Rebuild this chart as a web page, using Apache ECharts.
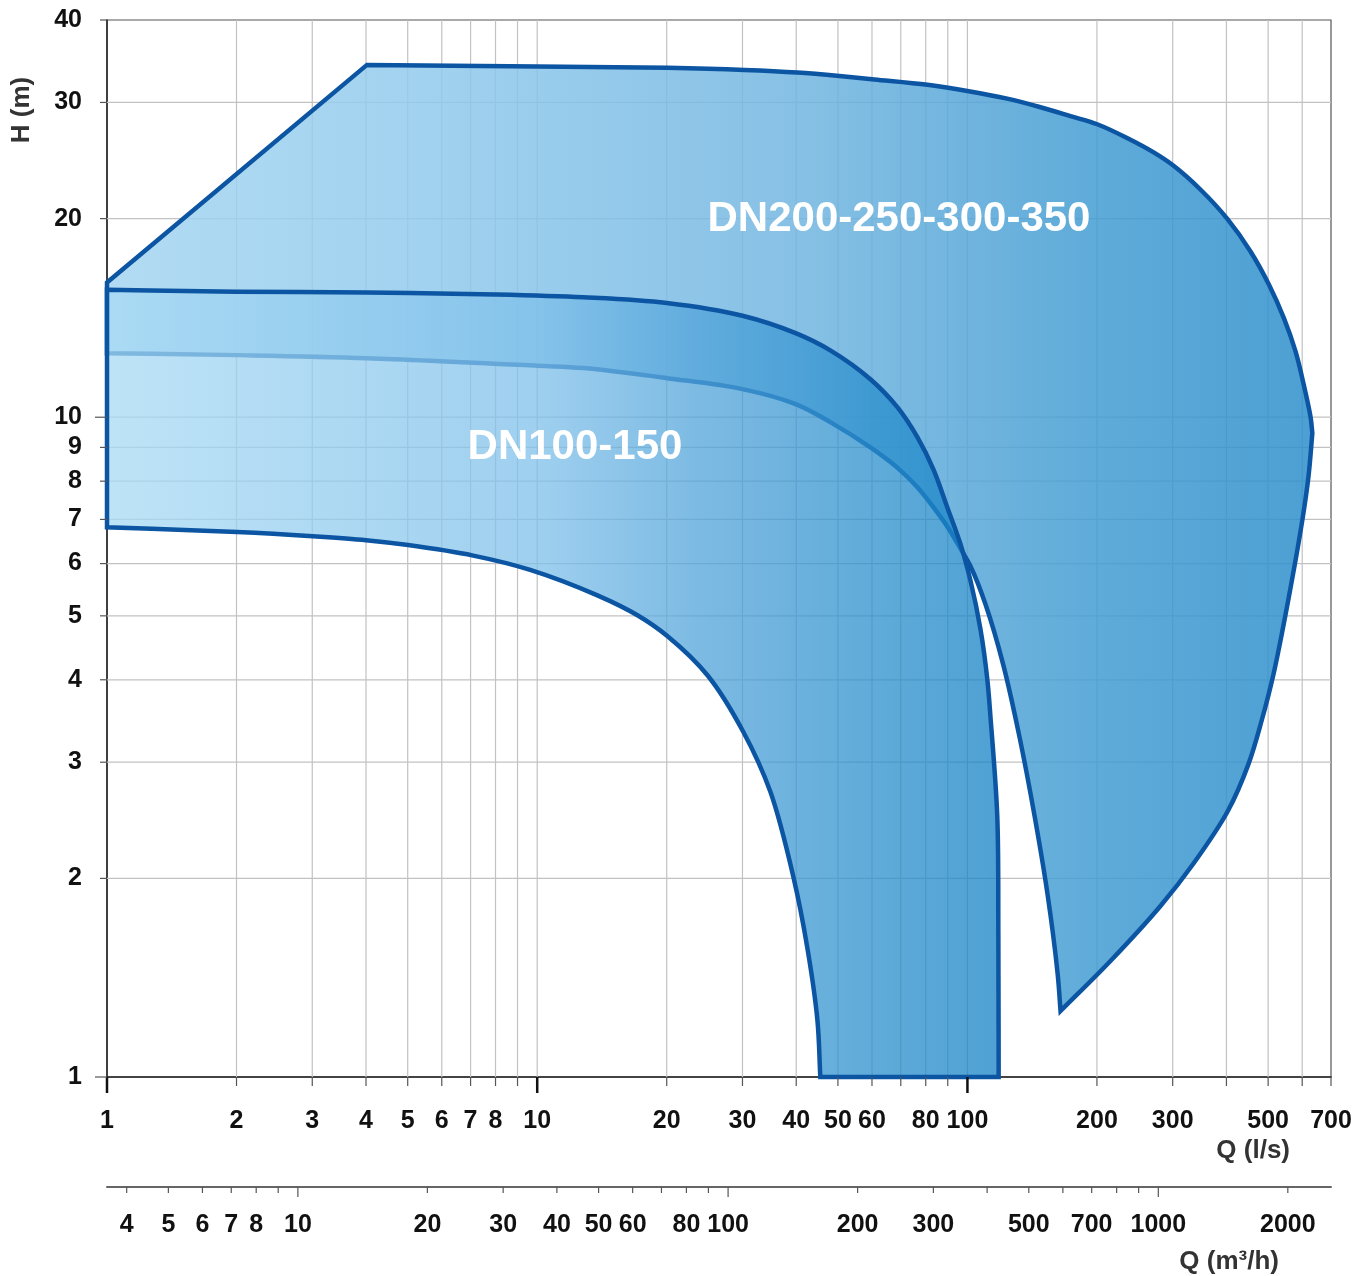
<!DOCTYPE html>
<html>
<head>
<meta charset="utf-8">
<script src="https://cdn.jsdelivr.net/npm/echarts@6/dist/echarts.min.js"></script>
<style>
  html, body { margin: 0; padding: 0; background: #fff; }
  #main { width: 1365px; height: 1276px; }
</style>
</head>
<body>
<div id="main"></div>
<script>
// pump range chart, Q in l/s, H in m (both log scales)
const dn200Q = [1, 4.02, 10, 20.06, 30.3, 40.2, 50.4, 60.8, 80.7, 100.7, 123.7, 147.9, 173.6, 200.3, 235, 271, 302, 348, 402, 455, 502, 544, 579, 605, 628, 633.5,
  621, 601, 558, 515, 483, 450, 403, 336, 281, 215, 164.6,
  162, 153.5, 143.2, 132.1, 121.2, 110.1, 101.6, 96.8, 90.3, 83.4, 76.5, 68.8, 59.5, 48, 40, 30, 20.06, 12.8, 10, 4.02, 2.016, 1];
const dn200H = [16.0, 34.2, 34.02, 33.85, 33.6, 33.3, 32.9, 32.5, 31.9, 31.2, 30.4, 29.5, 28.6, 27.8, 26.5, 25.2, 24.03, 22.14, 19.98, 17.83, 15.89, 14.13, 12.58, 11.2, 9.97, 9.46,
  8.17, 7.01, 5.32, 4.09, 3.47, 2.98, 2.53, 2.11, 1.816, 1.499, 1.259,
  1.437, 1.894, 2.49, 3.28, 4.21, 5.21, 5.95, 6.29, 6.79, 7.30, 7.83, 8.38, 9.0, 9.83, 10.46, 11.03, 11.46, 11.87, 11.97, 12.29, 12.42, 12.5];

const dn100Q = [1, 2, 4, 8, 12.8, 20, 30, 40, 48, 59.5, 68.8, 76.5, 83.4, 89.8, 96.3, 101.6, 107.3, 111.3, 113.1, 117.3, 118, 118.2,
  45.5, 44.8, 42.5, 39.4, 34.8, 30.1, 24.9, 20.06, 17.1, 13.8, 9.63, 7.1, 5.01, 4, 3.01, 2.006, 1];
const dn100H = [15.6, 15.5, 15.45, 15.35, 15.2, 14.9, 14.25, 13.4, 12.63, 11.42, 10.35, 9.33, 8.33, 7.30, 6.43, 5.66, 4.76, 3.99, 3.52, 2.49, 1.65, 1.0,
  1.0, 1.22, 1.563, 2.01, 2.71, 3.34, 4.06, 4.66, 5.01, 5.37, 5.87, 6.17, 6.40, 6.51, 6.60, 6.70, 6.81];

// indices where the outlines have a sharp corner (curved between them)
const dn200Corners = [0, 1, 25, 36, 58];
const dn100Corners = [0, 21, 22, 38];

const qGridLines = [2, 3, 4, 5, 6, 7, 8, 9, 10, 20, 30, 40, 50, 60, 70, 80, 90, 100, 200, 300, 400, 500, 600];
const qTicks = [1, 2, 3, 4, 5, 6, 7, 8, 9, 10, 20, 30, 40, 50, 60, 70, 80, 90, 100, 200, 300, 400, 500, 600, 700];
const qMajorTicks = [1, 10, 100];
const qLabels = [1, 2, 3, 4, 5, 6, 7, 8, 10, 20, 30, 40, 50, 60, 80, 100, 200, 300, 500, 700];

const hGridLines = [2, 3, 4, 5, 6, 7, 8, 9, 10, 20, 30];
const hTicks = [1, 2, 3, 4, 5, 6, 7, 8, 9, 10, 20, 30, 40];
const hMajorTicks = [1, 10];
const hLabels = [1, 2, 3, 4, 5, 6, 7, 8, 9, 10, 20, 30, 40];

const m3hTicks = [4, 5, 6, 7, 8, 9, 10, 20, 30, 40, 50, 60, 70, 80, 90, 100, 200, 300, 400, 500, 600, 700, 800, 900, 1000, 2000];
const m3hMajorTicks = [10, 100, 1000];
const m3hLabels = [4, 5, 6, 7, 8, 10, 20, 30, 40, 50, 60, 80, 100, 200, 300, 500, 700, 1000, 2000];

const Q_MIN = 1, Q_MAX = 700, H_MIN = 1, H_MAX = 40;
const FONT = '"Liberation Sans", Arial, sans-serif';
const LABEL_FONT = 'bold 25px ' + FONT;
const TITLE_FONT = 'bold 26px ' + FONT;
const OUTLINE = '#0b55a3';

const dn200Stops = [
  { offset: 0, color: 'rgba(165,213,241,0.85)' },
  { offset: 0.28, color: 'rgba(143,201,236,0.85)' },
  { offset: 0.57, color: 'rgba(113,181,224,0.85)' },
  { offset: 0.81, color: 'rgba(66,156,210,0.85)' },
  { offset: 1, color: 'rgba(44,142,203,0.85)' },
];
const dn100Stops = [
  { offset: 0, color: 'rgba(168,218,244,0.75)' },
  { offset: 0.35, color: 'rgba(127,192,234,0.75)' },
  { offset: 0.48, color: 'rgba(82,164,218,0.75)' },
  { offset: 0.63, color: 'rgba(41,142,204,0.75)' },
  { offset: 0.73, color: 'rgba(20,130,197,0.75)' },
  { offset: 1, color: 'rgba(14,127,195,0.75)' },
];

function line(x1, y1, x2, y2, color, width) {
  return { type: 'line', shape: { x1, y1, x2, y2 }, style: { stroke: color, lineWidth: width } };
}
function label(text, x, y, align, vAlign, font, color) {
  return { type: 'text', style: { text: String(text), x, y, align, verticalAlign: vAlign, font, fill: color } };
}

// centripetal Catmull-Rom control points for the segment p1 -> p2
function controls(p0, p1, p2, p3) {
  const dist = (a, b) => Math.sqrt(Math.hypot(b[0] - a[0], b[1] - a[1]));
  const d1 = dist(p0, p1), d2 = dist(p1, p2), d3 = dist(p2, p3);
  let c1, c2;
  if (d1 < 1e-6) {
    c1 = [p1[0] + (p2[0] - p1[0]) / 3, p1[1] + (p2[1] - p1[1]) / 3];
  } else {
    const a = 2 * d1 * d1 + 3 * d1 * d2 + d2 * d2, n = 3 * d1 * (d1 + d2);
    c1 = [0, 1].map(k => (d1 * d1 * p2[k] - d2 * d2 * p0[k] + a * p1[k]) / n);
  }
  if (d3 < 1e-6) {
    c2 = [p2[0] - (p2[0] - p1[0]) / 3, p2[1] - (p2[1] - p1[1]) / 3];
  } else {
    const a = 2 * d3 * d3 + 3 * d3 * d2 + d2 * d2, n = 3 * d3 * (d3 + d2);
    c2 = [0, 1].map(k => (d3 * d3 * p1[k] - d2 * d2 * p3[k] + a * p2[k]) / n);
  }
  return [c1, c2];
}

// closed outline: curves between corner points, straight where a piece has only two points
function outlinePath(pts, corners) {
  const n = pts.length;
  let d = 'M' + pts[0][0] + ' ' + pts[0][1];
  for (let k = 0; k < corners.length; k++) {
    const a = corners[k];
    const b = k + 1 < corners.length ? corners[k + 1] : n;
    const piece = [];
    for (let i = a; i <= b; i++) piece.push(pts[i % n]);
    if (piece.length === 2) {
      d += ' L' + piece[1][0] + ' ' + piece[1][1];
      continue;
    }
    for (let i = 0; i < piece.length - 1; i++) {
      const p0 = piece[Math.max(i - 1, 0)], p1 = piece[i], p2 = piece[i + 1];
      const p3 = piece[Math.min(i + 2, piece.length - 1)];
      const [c1, c2] = controls(p0, p1, p2, p3);
      d += ' C' + c1[0] + ' ' + c1[1] + ' ' + c2[0] + ' ' + c2[1] + ' ' + p2[0] + ' ' + p2[1];
    }
  }
  return d + ' Z';
}

function shapeItem(qs, hs, corners, stops) {
  return function (params, api) {
    const pts = qs.map((q, i) => api.coord([q, hs[i]]));
    const xa = api.coord([Q_MIN, H_MIN])[0];
    const xb = api.coord([Q_MAX, H_MIN])[0];
    return {
      type: 'path',
      shape: { pathData: outlinePath(pts, corners) },
      style: {
        fill: new echarts.graphic.LinearGradient(xa, 0, xb, 0, stops, true),
        stroke: OUTLINE,
        lineWidth: 4.5,
        lineJoin: 'miter',
        miterLimit: 10
      }
    };
  };
}

function gridItem(params, api) {
  const els = [];
  const [x0, y0] = api.coord([Q_MIN, H_MIN]);
  const [x1, y1] = api.coord([Q_MAX, H_MAX]);
  qGridLines.forEach(q => {
    const x = api.coord([q, H_MIN])[0];
    els.push(line(x, y1, x, y0, '#c2c2c2', 1.2));
  });
  hGridLines.forEach(h => {
    const y = api.coord([Q_MIN, h])[1];
    els.push(line(x0, y, x1, y, '#c2c2c2', 1.2));
  });
  return { type: 'group', children: els };
}

function primaryAxisItem(params, api) {
  const els = [];
  const [x0, y0] = api.coord([Q_MIN, H_MIN]);
  qTicks.forEach(q => {
    const x = api.coord([q, H_MIN])[0];
    const major = qMajorTicks.includes(q);
    els.push(line(x, y0, x, y0 + (major ? 16 : 9), major ? '#111' : '#555', major ? 2.5 : 1.2));
  });
  qLabels.forEach(q => {
    const x = api.coord([q, H_MIN])[0];
    els.push(label(q, x, y0 + 44, 'center', 'middle', LABEL_FONT, '#111'));
  });
  hTicks.forEach(h => {
    const y = api.coord([Q_MIN, h])[1];
    const major = hMajorTicks.includes(h);
    els.push(line(x0 - (major ? 12 : 7), y, x0, y, '#555', 1.2));
  });
  hLabels.forEach(h => {
    const y = api.coord([Q_MIN, h])[1];
    els.push(label(h, x0 - 25, y, 'right', 'middle', LABEL_FONT, '#111'));
  });
  return { type: 'group', children: els };
}

function secondAxisItem(params, api) {
  const els = [];
  m3hTicks.forEach(v => {
    const [x, y] = api.coord([v, 0]);
    const major = m3hMajorTicks.includes(v);
    els.push(line(x, y, x, y + (major ? 10 : 6), '#555', 1.2));
  });
  m3hLabels.forEach(v => {
    const [x, y] = api.coord([v, 0]);
    els.push(label(v, x, y + 38, 'center', 'middle', LABEL_FONT, '#111'));
  });
  return { type: 'group', children: els };
}

const chart = echarts.init(document.getElementById('main'));

const option = {
  animation: false,
  backgroundColor: '#fff',
  grid: [
    { left: 107, top: 20, right: 34, bottom: 199, show: true, borderColor: '#555', borderWidth: 1.2 },
    { left: 107, top: 1186, right: 34, height: 1 }
  ],
  xAxis: [
    {
      type: 'log', logBase: 10, min: Q_MIN, max: Q_MAX, gridIndex: 0,
      axisLine: { show: true, lineStyle: { color: '#222', width: 1.5 } },
      axisTick: { show: false }, axisLabel: { show: false }, splitLine: { show: false }
    },
    {
      type: 'log', logBase: 10, min: 3.6, max: 2520, gridIndex: 1,
      axisLine: { show: true, lineStyle: { color: '#666', width: 2 } },
      axisTick: { show: false }, axisLabel: { show: false }, splitLine: { show: false }
    }
  ],
  yAxis: [
    {
      type: 'log', logBase: 10, min: H_MIN, max: H_MAX, gridIndex: 0,
      axisLine: { show: true, lineStyle: { color: '#222', width: 1.5 } },
      axisTick: { show: false }, axisLabel: { show: false }, splitLine: { show: false }
    },
    { type: 'value', min: 0, max: 1, gridIndex: 1, show: false }
  ],
  graphic: [
    {
      type: 'text', x: 22, y: 110, rotation: Math.PI / 2,
      style: { text: 'H (m)', font: TITLE_FONT, fill: '#333', align: 'center', verticalAlign: 'middle' }
    },
    {
      type: 'text', x: 1290, y: 1151,
      style: { text: 'Q (l/s)', font: TITLE_FONT, fill: '#333', align: 'right', verticalAlign: 'middle' }
    },
    {
      type: 'text', x: 1279, y: 1262,
      style: { text: 'Q (m\u00b3/h)', font: TITLE_FONT, fill: '#333', align: 'right', verticalAlign: 'middle' }
    },
    {
      type: 'text', x: 899, y: 219, z: 100,
      style: { text: 'DN200-250-300-350', font: 'bold 42px ' + FONT, fill: '#fff', align: 'center', verticalAlign: 'middle' }
    },
    {
      type: 'text', x: 575, y: 447, z: 100,
      style: { text: 'DN100-150', font: 'bold 42px ' + FONT, fill: '#fff', align: 'center', verticalAlign: 'middle' }
    }
  ],
  series: [
    { type: 'custom', name: 'grid', xAxisIndex: 0, yAxisIndex: 0, z: 1, silent: true, data: [[1, 1]], renderItem: gridItem },
    { type: 'custom', name: 'DN200-250-300-350', xAxisIndex: 0, yAxisIndex: 0, z: 2, silent: true, data: [[1, 1]], renderItem: shapeItem(dn200Q, dn200H, dn200Corners, dn200Stops) },
    { type: 'custom', name: 'DN100-150', xAxisIndex: 0, yAxisIndex: 0, z: 3, silent: true, data: [[1, 1]], renderItem: shapeItem(dn100Q, dn100H, dn100Corners, dn100Stops) },
    { type: 'custom', name: 'axis l/s', xAxisIndex: 0, yAxisIndex: 0, z: 5, silent: true, data: [[1, 1]], renderItem: primaryAxisItem },
    { type: 'custom', name: 'axis m3/h', xAxisIndex: 1, yAxisIndex: 1, z: 5, silent: true, data: [[10, 0.5]], renderItem: secondAxisItem }
  ]
};

chart.setOption(option);
</script>
</body>
</html>
